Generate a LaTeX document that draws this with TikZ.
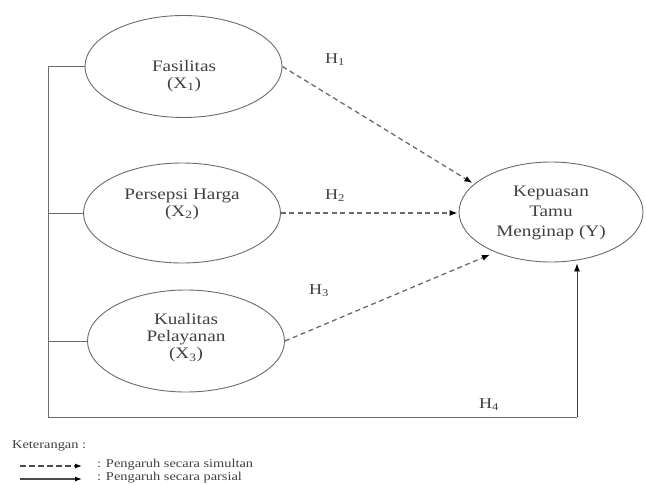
\documentclass[tikz,border=0pt]{standalone}
\usepackage{fontspec}
\setmainfont{Liberation Serif}[FakeStretch=1.2]
\usetikzlibrary{shapes.geometric,arrows.meta}
\definecolor{linegray}{gray}{0.42}
\definecolor{txtgray}{gray}{0.25}
\tikzset{
  ell/.style={ellipse, draw=linegray, line width=0.9pt, minimum width=197pt, minimum height=102pt, inner sep=0pt},
  txt/.style={text=txtgray, font=\fontsize{16}{17}\selectfont, align=center, inner sep=0pt},
  lab/.style={text=txtgray, font=\fontsize{15}{16}\selectfont, inner sep=0pt},
  leg/.style={text=txtgray, font=\fontsize{12}{13}\selectfont, inner sep=0pt, anchor=west},
  solidln/.style={draw=linegray, line width=0.9pt},
  dasharrow/.style={draw=linegray, line width=1.3pt, dash pattern=on 5pt off 3.5pt, -{Latex[length=8pt,width=6pt,black]}},
  solidarrow/.style={draw=black!75, line width=0.9pt, -{Latex[length=8pt,width=6pt,black]}},
}
\begin{document}
\begin{tikzpicture}[x=1pt,y=-1pt]
\useasboundingbox (0,0) rectangle (646,485);
% ellipses
\node[ell] (x1) at (183.5,66.5) {};
\node[ell, minimum height=100pt] (x2) at (182,213) {};
\node[ell] (x3) at (186,341) {};
\node[ell, minimum width=184pt, minimum height=100pt] (y) at (551,212) {};
% texts
\node[txt] (x1t) at (184,76) {Fasilitas\\(X\textsubscript{1})};
\node[txt] (x2t) at (182,204) {Persepsi Harga\\(X\textsubscript{2})};
\node[txt] (x3t) at (186,338) {Kualitas\\Pelayanan\\(X\textsubscript{3})};
\node[txt, font=\fontsize{16}{20}\selectfont] (yt) at (551,213) {Kepuasan\\Tamu\\Menginap (Y)};
% labels
\node[lab] (h1) at (335,60) {H\textsubscript{1}};
\node[lab] (h2) at (335,196) {H\textsubscript{2}};
\node[lab] (h3) at (319,291) {H\textsubscript{3}};
\node[lab] (h4) at (489,405) {H\textsubscript{4}};
% bracket
\coordinate (tl) at (48,67);
\coordinate (bl) at (48,417);
\coordinate (br) at (577,417);
\draw[solidln] (x1.west) -- (x1.west -| tl) -- (bl) -- (br);
\draw[solidln] (x2.west) -- (x2.west -| tl);
\draw[solidln] (x3.west) -- (x3.west -| tl);
\draw[solidarrow] (br) -- ([yshift=-1pt]br |- y.south);
% dashed arrows
\draw[dasharrow, shorten >=2pt] (x1.east) -- (y.160);
\draw[dasharrow, shorten >=1pt] (x2.east) -- (x2.east -| y.west);
\draw[dasharrow, shorten >=6pt] (x3.east) -- (y.216);
% legend
\node[leg] (ket) at (12,446) {Keterangan :};
\coordinate (l1a) at (20,466);
\coordinate (l1b) at (82,466);
\coordinate (l2a) at (20,479);
\coordinate (l2b) at (82,479);
\draw[draw=black!70, line width=1.1pt, dash pattern=on 6pt off 3pt, -{Latex[length=7pt,width=5pt,black]}] (l1a) -- (l1b);
\draw[draw=black!70, line width=1.1pt, -{Latex[length=7pt,width=5pt,black]}] (l2a) -- (l2b);
\node[leg] (leg1) at (97,465) {: Pengaruh secara simultan};
\node[leg] (leg2) at (97,478) {: Pengaruh secara parsial};
\end{tikzpicture}
\end{document}
